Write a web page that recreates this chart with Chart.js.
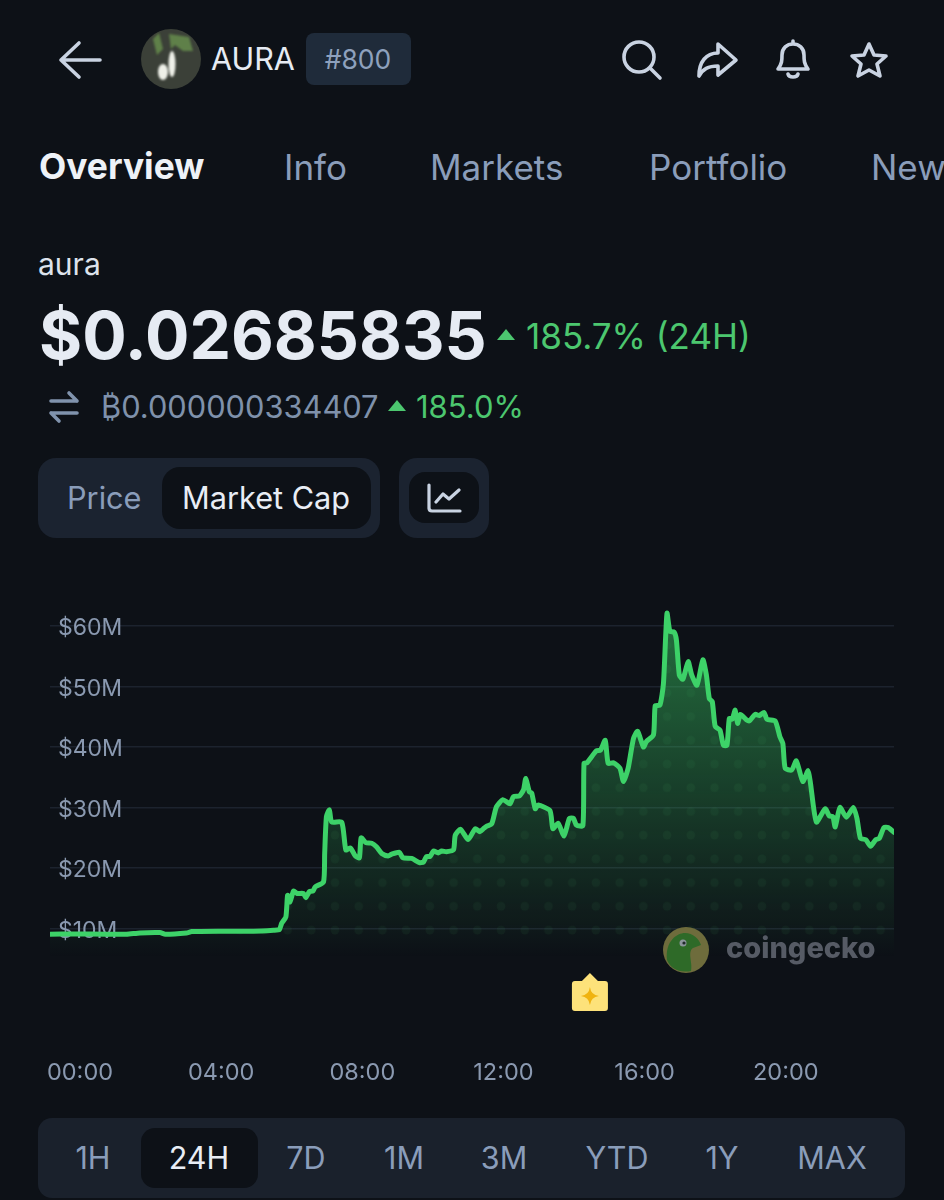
<!DOCTYPE html>
<html>
<head>
<meta charset="utf-8">
<title>AURA market cap</title>
<script src="https://cdn.jsdelivr.net/npm/chart.js@4/dist/chart.umd.min.js"></script>
<style>
  html, body { margin: 0; padding: 0; background: #0d1117; }
  body { position: relative; width: 944px; height: 1200px; overflow: hidden; font-family: Inter, sans-serif; }
  .t { position: absolute; white-space: nowrap; line-height: 40px; height: 40px; }
  .c { transform: translateX(-50%); }
  .box { position: absolute; }
  svg { position: absolute; overflow: visible; }
  #chart { position: absolute; left: 0; top: 590px; }
  .tab { font-size: 35px; color: #8a9dba; top: 147px; }
  .range { font-size: 30.5px; color: #8a9dba; top: 1138px; }
  .green { color: #4cc76f; }
</style>
</head>
<body>

<!-- header -->
<svg style="left:0;top:0" width="944" height="120" fill="none" stroke="#c9d3e2" stroke-width="3.6" stroke-linecap="round" stroke-linejoin="round">
  <path d="M61 60H100M79 43L61 60L79 77"/>
  <circle cx="639" cy="57" r="15"/><path d="M650 68L660 78"/>
  <path d="M718 44L736 60L718 75V66C708 66 703 69 699 76C699 62 706 53 718 53Z"/>
  <path d="M778 69C782 64 782 60 782 55C782 48 787 44 793 44C799 44 804 48 804 55C804 60 804 64 808 69Z M788 74C789 78 797 78 798 74 M793 44V41"/>
  <path d="M869 44L874 55L886 56L877 64L880 76L869 70L858 76L861 64L852 56L864 55Z"/>
</svg>
<svg style="left:141px;top:29px" width="60" height="60">
  <defs><filter id="soft"><feGaussianBlur stdDeviation="1.2"/></filter></defs>
  <circle cx="30" cy="30" r="30" fill="#3b4038"/>
  <g filter="url(#soft)">
    <path d="M12 10L18 4L22 20L16 26Z" fill="#5f8048"/>
    <path d="M28 5L48 8L52 22L42 22L34 16L30 20Z" fill="#5f8048"/>
    <ellipse cx="31" cy="35" rx="3.5" ry="13" fill="#eef0e8"/>
    <ellipse cx="22" cy="43" rx="5" ry="8" fill="#eef0e8"/>
  </g>
</svg>
<div class="t" style="left:211px;top:39px;font-size:30.5px;color:#e6ebf3">AURA</div>
<div class="box" style="left:306px;top:33px;width:105px;height:52px;border-radius:8px;background:#1f2b3a"></div>
<div class="t c" style="left:358px;top:39px;font-size:26.5px;color:#8ea1bd">#800</div>

<!-- tabs -->
<div class="t" style="left:39px;top:147px;font-size:35.4px;font-weight:700;color:#eef2f7">Overview</div>
<div class="t tab" style="left:284px">Info</div>
<div class="t tab" style="left:430px">Markets</div>
<div class="t tab" style="left:649px">Portfolio</div>
<div class="t tab" style="left:871px">News</div>

<!-- price block -->
<div class="t" style="left:38px;top:244px;font-size:30px;color:#dde3ec">aura</div>
<div class="t" style="left:39px;top:315px;font-size:66px;font-weight:700;color:#e6ebf3">$0.02685835</div>
<svg style="left:497px;top:329px" width="18" height="12"><path d="M9 0L18 11H0Z" fill="#4cc76f"/></svg>
<div class="t green" style="left:526px;top:316px;font-size:35px">185.7% (24H)</div>
<svg style="left:50px;top:392px" width="30" height="30" fill="none" stroke="#8093ad" stroke-width="3.6" stroke-linecap="round" stroke-linejoin="round">
  <path d="M1 9H27M19 1L27 9M27 21H1M9 29L1 21"/>
</svg>
<div class="t" style="left:101px;top:387px;font-size:30.8px;color:#7f91ab">₿0.000000334407</div>
<svg style="left:388px;top:400px" width="18" height="12"><path d="M9 0L18 11H0Z" fill="#4cc76f"/></svg>
<div class="t green" style="left:416px;top:387px;font-size:31px">185.0%</div>

<!-- toggles -->
<div class="box" style="left:38px;top:458px;width:342px;height:80px;border-radius:18px;background:#1b2330"></div>
<div class="box" style="left:162px;top:467px;width:209px;height:62px;border-radius:18px;background:#0d1117"></div>
<div class="t" style="left:67px;top:478px;font-size:30.7px;color:#8a9dba">Price</div>
<div class="t" style="left:182px;top:478px;font-size:30.7px;color:#e8edf5">Market Cap</div>
<div class="box" style="left:399px;top:458px;width:90px;height:80px;border-radius:18px;background:#1b2330"></div>
<div class="box" style="left:409px;top:472px;width:70px;height:51px;border-radius:16px;background:#0d1117"></div>
<svg style="left:428px;top:484px" width="34" height="28" fill="none" stroke="#c9d3e2" stroke-width="3.2" stroke-linecap="round" stroke-linejoin="round">
  <path d="M1 1V24Q1 27 4 27H32M8 18L15 10L21 15L31 6"/>
</svg>

<canvas id="chart" width="944" height="510"></canvas>

<!-- watermark -->
<svg style="left:663px;top:927px" width="46" height="46">
  <circle cx="23" cy="23" r="23" fill="#6e6c3c"/>
  <path d="M4 33C2 14 14 6 22 6C30 6 36 12 38 18L30 21C24 25 30 36 28 44C16 46 8 42 4 33Z" fill="#2e6a28"/>
  <circle cx="20" cy="16" r="3.5" fill="#8c959c"/><circle cx="21" cy="16" r="1.6" fill="#20282c"/>
</svg>
<div class="t" style="left:726px;top:928px;font-size:29px;font-weight:800;color:#565b65">coingecko</div>

<!-- range buttons -->
<div class="box" style="left:38px;top:1118px;width:867px;height:80px;border-radius:14px;background:#1a212c"></div>
<div class="box" style="left:141px;top:1128px;width:117px;height:60px;border-radius:14px;background:#0d1117"></div>
<div class="t c range" style="left:93px">1H</div>
<div class="t c range" style="left:199px;color:#e8edf5">24H</div>
<div class="t c range" style="left:306px">7D</div>
<div class="t c range" style="left:404px">1M</div>
<div class="t c range" style="left:504px">3M</div>
<div class="t c range" style="left:617px">YTD</div>
<div class="t c range" style="left:722px">1Y</div>
<div class="t c range" style="left:832px">MAX</div>

<script>
// minutes after 00:00, negative = previous evening
const times = [
  -51, -11, 45, 79, 102, 136, 145, 181, 190, 238, 295, 329, 339, 343, 350, 353, 357, 363, 369, 380,
  384, 390, 396, 400, 414, 416, 419, 424, 428, 445, 452, 460, 468, 475, 478, 486, 496, 504, 513, 524,
  530, 543, 549, 564, 577, 584, 589, 595, 601, 609, 615, 623, 635, 638, 647, 660, 672, 680, 686, 691,
  700, 708, 719, 731, 737, 747, 754, 758, 764, 768, 774, 779, 799, 804, 813, 823, 832, 839, 844, 855,
  857, 862, 870, 878, 885, 893, 898, 907, 918, 924, 932, 941, 948, 958, 963, 975, 978, 986, 992, 998,
  1003, 1010, 1014, 1019, 1025, 1034, 1040, 1049, 1059, 1065, 1070, 1075, 1080, 1088, 1094, 1100, 1104, 1109, 1114, 1118,
  1123, 1133, 1138, 1148, 1155, 1163, 1168, 1182, 1190, 1195, 1199, 1210, 1218, 1229, 1238, 1242, 1252, 1267, 1274, 1280,
  1284, 1292, 1303, 1315, 1321, 1327, 1336, 1344, 1353, 1359, 1367, 1374, 1384
];
// market cap in $M
const marketCap = [
  9.06, 9.12, 9.06, 9.06, 9.28, 9.34, 9.06, 9.28, 9.5, 9.56, 9.56, 9.72, 9.83, 10.9, 11.9, 15.5, 14.4, 16.2, 15.8, 15.8,
  15.1, 16.1, 16.2, 16.9, 17.7, 22.4, 28.5, 29.6, 27.6, 27.6, 23.0, 23.3, 22.0, 21.7, 25.0, 24.2, 24.1, 23.5, 22.4, 22.0,
  22.3, 22.6, 21.7, 21.6, 20.9, 21.0, 21.9, 21.9, 22.8, 22.5, 22.8, 22.7, 23.0, 25.4, 26.4, 24.7, 26.5, 26.0, 26.5, 26.9,
  27.3, 30.1, 31.3, 30.6, 31.8, 31.9, 32.9, 34.8, 32.6, 32.4, 29.8, 30.4, 29.5, 26.5, 27.4, 25.3, 28.2, 28.2, 27.1, 27.0,
  37.3, 37.4, 38.4, 39.4, 39.5, 41.1, 37.3, 37.4, 36.5, 34.3, 36.5, 41.4, 42.6, 40.0, 40.9, 42.0, 46.8, 46.9, 50.5, 62.1,
  59.1, 59.0, 57.7, 51.9, 51.2, 54.1, 51.9, 50.2, 54.4, 51.9, 48.0, 47.5, 43.4, 42.8, 40.3, 40.3, 44.7, 44.6, 46.1, 43.9,
  45.4, 44.5, 44.3, 45.4, 45.2, 45.7, 44.6, 44.3, 41.7, 40.6, 36.5, 36.2, 37.7, 34.3, 36.1, 34.0, 27.6, 29.8, 28.6, 28.5,
  26.8, 30.0, 28.4, 30.0, 28.2, 24.9, 24.7, 23.6, 24.7, 24.9, 26.7, 26.7, 25.9
];
const yTicks = [10, 20, 30, 40, 50, 60];
const xTicks = [0, 240, 480, 720, 960, 1200];
const xTickLabels = ['00:00', '04:00', '08:00', '12:00', '16:00', '20:00'];
const eventTimes = [867];

const points = times.map((t, i) => ({ x: t, y: marketCap[i] }));

// dotted texture that sits inside the filled area
const makeDots = (ctx) => {
  const tile = document.createElement('canvas');
  tile.width = 24;
  tile.height = 24;
  const tc = tile.getContext('2d');
  tc.fillStyle = 'rgba(90,200,125,0.06)';
  tc.beginPath();
  tc.arc(12, 12, 4.5, 0, Math.PI * 2);
  tc.fill();
  const pattern = ctx.createPattern(tile, 'repeat');
  pattern.setTransform(new DOMMatrix().translate(-8.98, -3.94).scale(23.72 / 24));
  return pattern;
};

// little yellow news flags under the line
const eventFlags = {
  id: 'eventFlags',
  afterDraw(chart) {
    const { ctx, scales } = chart;
    const top = chart.chartArea.bottom + 16;
    eventTimes.forEach((t) => {
      const x = scales.x.getPixelForValue(t);
      ctx.save();
      ctx.fillStyle = '#fde27a';
      ctx.beginPath();
      ctx.moveTo(x, top);
      ctx.lineTo(x + 8, top + 8);
      ctx.lineTo(x + 15, top + 8);
      ctx.quadraticCurveTo(x + 18, top + 8, x + 18, top + 11);
      ctx.lineTo(x + 18, top + 35);
      ctx.quadraticCurveTo(x + 18, top + 38, x + 15, top + 38);
      ctx.lineTo(x - 15, top + 38);
      ctx.quadraticCurveTo(x - 18, top + 38, x - 18, top + 35);
      ctx.lineTo(x - 18, top + 11);
      ctx.quadraticCurveTo(x - 18, top + 8, x - 15, top + 8);
      ctx.lineTo(x - 8, top + 8);
      ctx.closePath();
      ctx.fill();
      const cy = top + 23;
      ctx.fillStyle = '#f0b310';
      ctx.beginPath();
      ctx.moveTo(x, cy - 9);
      ctx.quadraticCurveTo(x + 1, cy - 1, x + 9, cy);
      ctx.quadraticCurveTo(x + 1, cy + 1, x, cy + 9);
      ctx.quadraticCurveTo(x - 1, cy + 1, x - 9, cy);
      ctx.quadraticCurveTo(x - 1, cy - 1, x, cy - 9);
      ctx.fill();
      ctx.restore();
    });
  }
};

const chartEl = document.getElementById('chart');

new Chart(chartEl, {
  type: 'line',
  data: {
    datasets: [
      {
        data: points,
        borderColor: '#3dd268',
        borderWidth: 5,
        borderJoinStyle: 'round',
        borderCapStyle: 'round',
        tension: 0.2,
        pointRadius: 0,
        fill: 'start',
        backgroundColor: (c) => {
          const area = c.chart.chartArea;
          if (!area) return 'transparent';
          const g = c.chart.ctx.createLinearGradient(0, area.top, 0, area.bottom);
          g.addColorStop(0, 'rgba(61,210,104,0.5)');
          g.addColorStop(1, 'rgba(61,210,104,0)');
          return g;
        }
      },
      {
        data: points,
        borderWidth: 0,
        tension: 0.2,
        pointRadius: 0,
        fill: { value: 7.8 },
        backgroundColor: makeDots(chartEl.getContext('2d'))
      }
    ]
  },
  plugins: [eventFlags],
  options: {
    responsive: false,
    animation: false,
    layout: { padding: { left: 50, right: 50, top: 16, bottom: 0 } },
    plugins: { legend: { display: false }, tooltip: { enabled: false } },
    scales: {
      x: {
        type: 'linear',
        min: times[0],
        max: times[times.length - 1],
        grid: { display: false },
        border: { display: false },
        afterBuildTicks: (axis) => { axis.ticks = xTicks.map((value) => ({ value })); },
        afterFit: (axis) => {
          axis.height = 143;
          axis.paddingLeft = 0;
          axis.paddingRight = 0;
        },
        ticks: {
          maxRotation: 0,
          autoSkip: false,
          padding: 94,
          color: '#8a99b0',
          font: { family: 'Inter', size: 23.5 },
          callback: (v) => xTickLabels[xTicks.indexOf(v)]
        }
      },
      y: {
        min: 5.3,
        max: 63.3,
        grid: { color: 'rgba(110,130,170,0.16)', lineWidth: 1.5, drawTicks: false },
        border: { display: false },
        afterBuildTicks: (axis) => { axis.ticks = yTicks.map((value) => ({ value })); },
        afterFit: (axis) => {
          axis.width = 0;
          axis.paddingTop = 0;
          axis.paddingBottom = 0;
        },
        ticks: {
          mirror: true,
          padding: 8,
          labelOffset: 2.5,
          color: '#8a99b0',
          font: { family: 'Inter', size: 23 },
          callback: (v) => `$${v}M`
        }
      }
    }
  }
});
</script>
</body>
</html>
